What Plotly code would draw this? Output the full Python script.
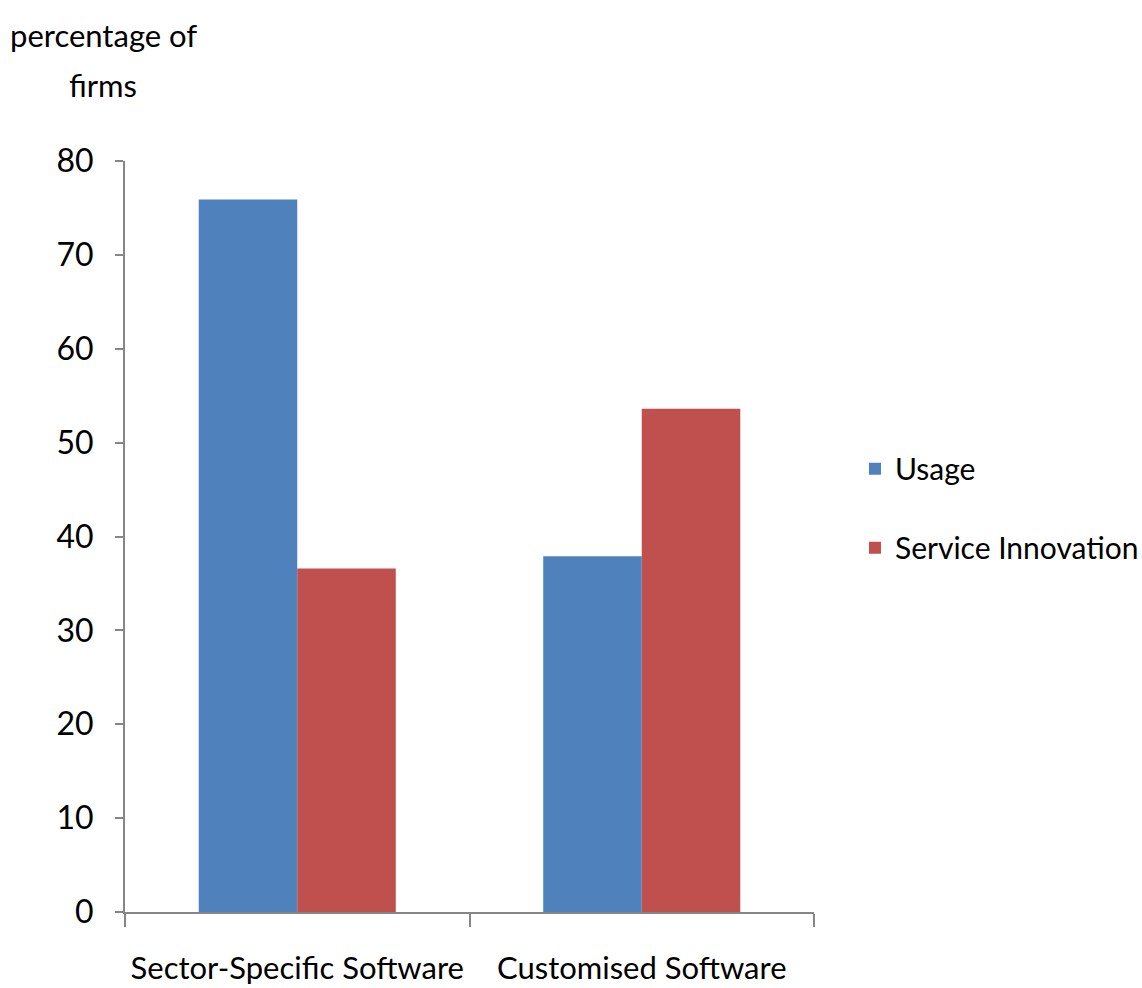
import plotly.graph_objects as go

categories = ["Sector-Specific Software", "Customised Software"]
usage = [75.9, 37.9]
service_innovation = [36.6, 53.6]

FONT = "Lato, Liberation Sans, sans-serif"
AXIS_GREY = "#868686"

fig = go.Figure()
fig.add_trace(go.Bar(name="Usage", x=categories, y=usage,
                     marker=dict(color="#4F81BD", line=dict(width=0)),
                     legendgroup="a"))
fig.add_trace(go.Bar(name="Service Innovation", x=categories, y=service_innovation,
                     marker=dict(color="#C0504D", line=dict(width=0)),
                     legendgroup="b"))

fig.update_layout(
    width=1142, height=988,
    margin=dict(l=125, r=328, t=161, b=76, autoexpand=False),
    paper_bgcolor="white", plot_bgcolor="white",
    barmode="group", bargap=0.428, bargroupgap=0,
    font=dict(family=FONT, size=31, color="black"),
    showlegend=True,
    legend=dict(x=1.0595, y=0.625, xanchor="left", yanchor="top",
                tracegroupgap=37, font=dict(size=30),
                itemwidth=30, bgcolor="rgba(0,0,0,0)"),
    xaxis=dict(showline=True, linecolor=AXIS_GREY, linewidth=2,
               ticks="outside", tickson="boundaries", ticklen=13,
               tickcolor=AXIS_GREY, tickwidth=2, showgrid=False,
               tickangle=0, automargin=False, ticklabelstandoff=28),
    yaxis=dict(range=[0, 80], dtick=10, showline=True, linecolor=AXIS_GREY,
               linewidth=2, ticks="outside", ticklen=8, tickcolor=AXIS_GREY,
               tickwidth=2, showgrid=False, zeroline=False, automargin=False,
               ticklabelstandoff=15, tickfont=dict(size=32)),
    annotations=[
        dict(text="percentage of", xref="paper", yref="paper",
             x=(103 - 125) / 689, y=1 + (161 - 35) / 751,
             xanchor="center", yanchor="middle", showarrow=False,
             font=dict(size=31)),
        dict(text="firms", xref="paper", yref="paper",
             x=(103 - 125) / 689, y=1 + (161 - 85) / 751,
             xanchor="center", yanchor="middle", showarrow=False,
             font=dict(size=31)),
    ],
)

fig.write_html("out.html")
